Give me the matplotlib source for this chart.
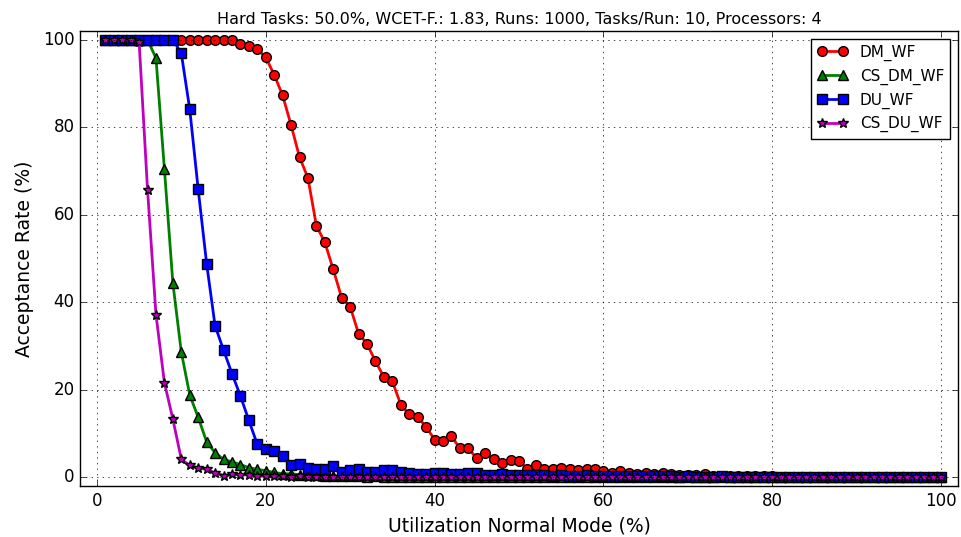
import matplotlib
matplotlib.use('Agg')
import matplotlib.pyplot as plt
import numpy as np

# utilization steps (%)
util = np.arange(1, 101)

dm_wf = [
    100, 100, 100, 100, 100, 100, 100, 100, 100, 100,
    100, 100, 100, 100, 100, 100, 99.1, 98.6, 97.9, 96.0,
    92.0, 87.3, 80.5, 73.2, 68.4, 57.5, 53.7, 47.5, 41.0, 39.0,
    32.8, 30.5, 26.5, 22.9, 21.9, 16.6, 14.4, 13.8, 11.5, 8.6,
    8.4, 9.4, 6.6, 6.6, 4.3, 5.5, 4.1, 3.3, 4.0, 3.7,
    2.0, 2.9, 2.0, 1.9, 2.2, 1.9, 1.6, 1.9, 2.0, 1.5,
    1.0, 1.4, 1.0, 0.8, 1.0, 0.8, 1.0, 0.8, 0.6, 0.6,
    0.5, 0.7, 0.4, 0.3, 0.4, 0.3, 0.2, 0.3, 0.2, 0.2,
    0.1, 0.1, 0.1, 0.1, 0.0, 0.1, 0.0, 0.0, 0.1, 0.0,
    0.0, 0.0, 0.0, 0.0, 0.0, 0.0, 0.0, 0.0, 0.0, 0.0,
]
cs_dm_wf = [
    100, 100, 100, 100, 100, 100, 95.8, 70.4, 44.4, 28.6,
    18.8, 13.7, 8.1, 5.6, 4.1, 3.5, 2.9, 2.2, 1.8, 1.5,
    1.1, 0.8, 0.8, 0.6, 0.5, 0.5, 0.4, 0.3, 0.3, 0.2,
    0.2, 0.1, 0.2, 0.1, 0.1, 0.1, 0.0, 0.1, 0.0, 0.0,
    0.0, 0.0, 0.0, 0.0, 0.0, 0.0, 0.0, 0.0, 0.0, 0.0,
    0.0, 0.0, 0.0, 0.0, 0.0, 0.0, 0.0, 0.0, 0.0, 0.0,
    0.0, 0.0, 0.0, 0.0, 0.0, 0.0, 0.0, 0.0, 0.0, 0.0,
    0.0, 0.0, 0.0, 0.0, 0.0, 0.0, 0.0, 0.0, 0.0, 0.0,
    0.0, 0.0, 0.0, 0.0, 0.0, 0.0, 0.0, 0.0, 0.0, 0.0,
    0.0, 0.0, 0.0, 0.0, 0.0, 0.0, 0.0, 0.0, 0.0, 0.0,
]
du_wf = [
    100, 100, 100, 100, 100, 100, 100, 100, 100, 96.9,
    84.1, 65.8, 48.8, 34.6, 29.1, 23.7, 18.6, 13.0, 7.5, 6.5,
    5.9, 4.8, 2.9, 3.0, 2.2, 1.9, 1.9, 2.6, 1.2, 1.6,
    1.8, 1.2, 1.2, 1.6, 1.6, 1.2, 1.0, 0.8, 0.8, 1.0,
    1.0, 0.8, 0.8, 1.0, 1.0, 0.6, 0.6, 0.8, 0.6, 0.6,
    0.5, 0.6, 0.5, 0.4, 0.5, 0.4, 0.4, 0.5, 0.3, 0.4,
    0.3, 0.3, 0.2, 0.3, 0.2, 0.2, 0.3, 0.2, 0.1, 0.2,
    0.1, 0.1, 0.1, 0.2, 0.1, 0.1, 0.0, 0.1, 0.0, 0.1,
    0.0, 0.0, 0.0, 0.0, 0.0, 0.0, 0.0, 0.0, 0.0, 0.0,
    0.0, 0.0, 0.0, 0.0, 0.0, 0.0, 0.0, 0.0, 0.0, 0.0,
]
cs_du_wf = [
    100, 100, 100, 100, 99.6, 65.7, 37.2, 21.6, 13.3, 4.1,
    2.7, 2.1, 1.8, 1.0, 0.4, 0.7, 0.5, 0.6, 0.2, 0.3,
    0.2, 0.2, 0.1, 0.2, 0.1, 0.1, 0.1, 0.0, 0.1, 0.0,
    0.0, 0.0, 0.0, 0.0, 0.0, 0.0, 0.0, 0.0, 0.0, 0.0,
    0.0, 0.0, 0.0, 0.0, 0.0, 0.0, 0.0, 0.0, 0.0, 0.0,
    0.0, 0.0, 0.0, 0.0, 0.0, 0.0, 0.0, 0.0, 0.0, 0.0,
    0.0, 0.0, 0.0, 0.0, 0.0, 0.0, 0.0, 0.0, 0.0, 0.0,
    0.0, 0.0, 0.0, 0.0, 0.0, 0.0, 0.0, 0.0, 0.0, 0.0,
    0.0, 0.0, 0.0, 0.0, 0.0, 0.0, 0.0, 0.0, 0.0, 0.0,
    0.0, 0.0, 0.0, 0.0, 0.0, 0.0, 0.0, 0.0, 0.0, 0.0,
]

series = [
    ('DM_WF', dm_wf, 'r', 'o'),
    ('CS_DM_WF', cs_dm_wf, 'g', '^'),
    ('DU_WF', du_wf, 'b', 's'),
    ('CS_DU_WF', cs_du_wf, 'm', '*'),
]

plt.style.use('classic')
plt.rcParams['figure.facecolor'] = 'white'
plt.rcParams['savefig.facecolor'] = 'white'
plt.rcParams['font.family'] = 'DejaVu Sans'

fig = plt.figure(figsize=(9.62, 5.37), dpi=100)
ax = fig.add_axes([80 / 962, 1 - 486 / 537, (958 - 80) / 962, (486 - 31) / 537])

for name, vals, col, mk in series:
    ax.plot(util, vals, color=col, marker=mk, linewidth=2, markersize=7,
            markeredgecolor='k', markeredgewidth=1, label=name)

ax.set_xlim(-2, 102)
ax.set_ylim(-2, 102)
ax.set_xticks(np.arange(0, 101, 20))
ax.set_yticks(np.arange(0, 101, 20))
ax.tick_params(labelsize=12)
ax.grid(True)

ax.set_xlabel('Utilization Normal Mode (%)', fontsize=13.5)
ax.set_ylabel('Acceptance Rate (%)', fontsize=13.5, labelpad=6)
ax.set_title('Hard Tasks: 50.0%, WCET-F.: 1.83, Runs: 1000, Tasks/Run: 10, Processors: 4',
             fontsize=11.5)
ax.legend(loc='upper right', fontsize=11, numpoints=2)

fig.savefig('out.png', dpi=100, facecolor='white')
